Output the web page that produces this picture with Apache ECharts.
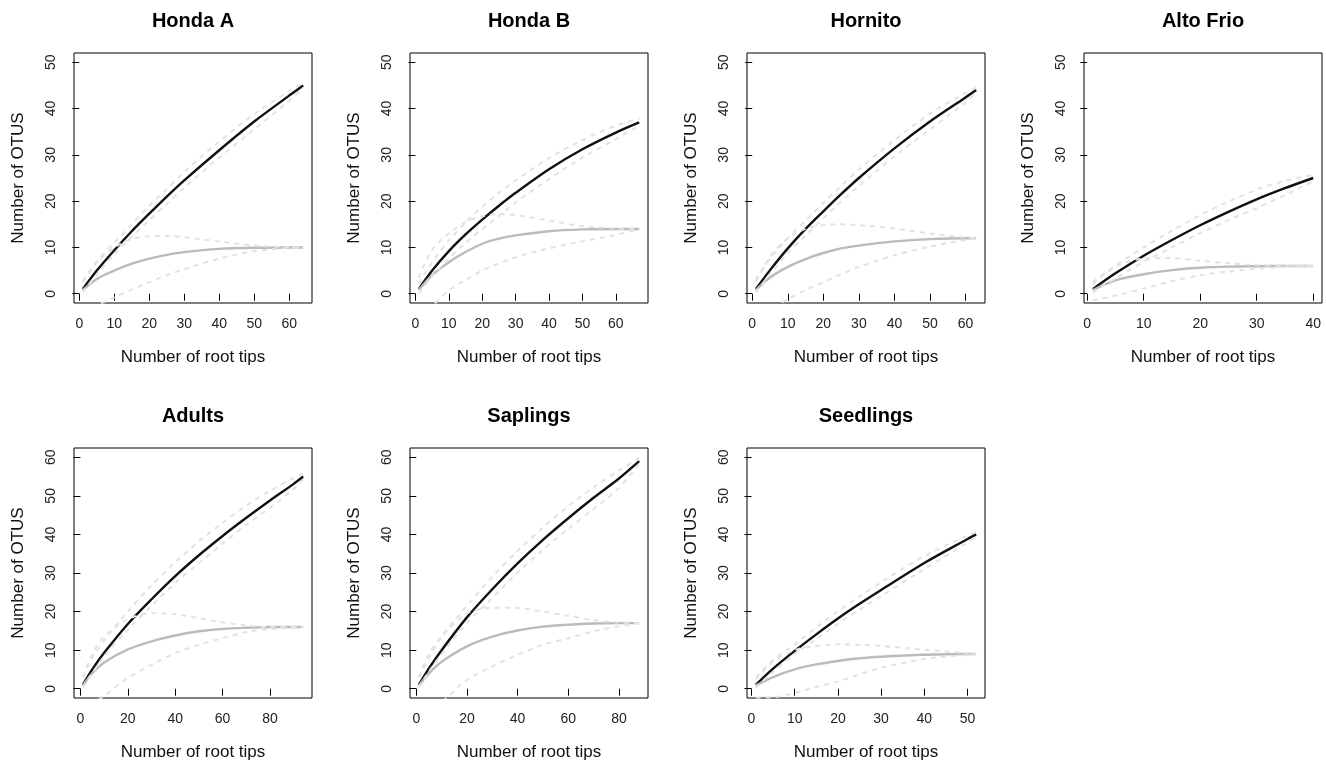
<!DOCTYPE html>
<html>
<head>
<meta charset="utf-8">
<title>OTU accumulation by site and stage</title>
<script src="https://cdn.jsdelivr.net/npm/echarts@6.0.0/dist/echarts.min.js"></script>
<style>
  html, body { margin: 0; padding: 0; background: #fff; }
  #chart { width: 1326px; height: 764px; }
</style>
</head>
<body>
<div id="chart"></div>
<script>
// panel titles and axis ticks
const titles = ['Honda A', 'Honda B', 'Hornito', 'Alto Frio', 'Adults', 'Saplings', 'Seedlings'];
const yTicks50 = [0, 10, 20, 30, 40, 50];
const yTicks60 = [0, 10, 20, 30, 40, 50, 60];
const xTicks60 = [0, 10, 20, 30, 40, 50, 60];
const xTicks40 = [0, 10, 20, 30, 40];
const xTicks80 = [0, 20, 40, 60, 80];
const xTicks50 = [0, 10, 20, 30, 40, 50];

// Honda A
const hondaA_x       = [1, 5, 10, 15, 20, 25, 30, 40, 50, 60, 64];
const hondaA_black   = [1, 5.0, 9.4, 13.5, 17.3, 21.0, 24.5, 31.0, 37.2, 42.8, 45];
const hondaA_blackHi = [2.8, 7, 11, 15, 19, 22.6, 26.3, 32.9, 38.8, 43.8, 45.5];
const hondaA_blackLo = [0.4, 4.2, 8.5, 12.3, 15.9, 19.4, 22.9, 29.4, 35.5, 41.7, 44.5];
const hondaA_grey    = [0.8, 3.2, 5.0, 6.5, 7.6, 8.4, 9.0, 9.7, 9.95, 10, 10];
const hondaA_greyHi  = [2.5, 6.8, 10, 11.8, 12.4, 12.5, 12.2, 11.3, 10.4, 10.05, 10];
const hondaA_greyLo  = [-3.8, -2.5, -0.8, 0.9, 2.5, 4, 5.3, 7.6, 9.2, 9.9, 10];

// Honda B
const hondaB_x       = [1, 5, 10, 15, 20, 25, 30, 40, 50, 60, 67];
const hondaB_black   = [1, 5, 9.2, 12.8, 16, 19, 21.8, 26.9, 31.2, 34.8, 37];
const hondaB_blackHi = [2.2, 6.8, 11.5, 15.4, 18.8, 21.8, 24.5, 29.3, 33.2, 36.3, 37.8];
const hondaB_blackLo = [0.2, 3.8, 7.6, 11, 14, 16.8, 19.7, 24.8, 29.4, 33.4, 36.3];
const hondaB_grey    = [0.8, 4, 6.8, 9, 10.8, 11.9, 12.6, 13.5, 13.9, 14, 14];
const hondaB_greyHi  = [3.5, 9.5, 13, 15.5, 16.7, 17.2, 17, 15.8, 14.6, 14.1, 14];
const hondaB_greyLo  = [-4.5, -2.6, 0.7, 3, 5, 6.6, 7.9, 9.8, 11.3, 12.7, 14];

// Hornito
const hornito_x       = [1, 5, 10, 15, 20, 25, 30, 40, 50, 60, 63];
const hornito_black   = [1, 5.1, 9.8, 14.0, 17.8, 21.5, 25.0, 31.4, 37.2, 42.4, 44];
const hornito_blackHi = [3, 7.6, 12, 15.8, 19.6, 23.3, 26.8, 33.2, 38.9, 43.4, 44.5];
const hornito_blackLo = [0.3, 4.2, 8.8, 12.6, 16.3, 19.9, 23.3, 29.7, 35.5, 41.3, 43.5];
const hornito_grey    = [0.8, 3.5, 5.8, 7.5, 8.8, 9.8, 10.4, 11.3, 11.8, 12, 12];
const hornito_greyHi  = [2.5, 8, 12, 14, 14.8, 15, 14.8, 14.1, 13, 12.2, 12];
const hornito_greyLo  = [-5, -3.3, -1.2, 0.8, 2.5, 4.2, 5.8, 8.3, 10.2, 11.6, 12];

// Alto Frio
const altoFrio_x       = [1, 5, 10, 15, 20, 25, 30, 35, 40];
const altoFrio_black   = [1, 4.4, 8.2, 11.6, 14.8, 17.7, 20.4, 22.8, 25];
const altoFrio_blackHi = [2.5, 6.1, 10, 13.6, 17, 19.9, 22.5, 24.4, 25.7];
const altoFrio_blackLo = [0.3, 3.3, 6.9, 10, 13.1, 15.9, 18.5, 21.3, 24.3];
const altoFrio_grey    = [0.8, 2.9, 4.2, 5.1, 5.6, 5.85, 5.95, 6, 6];
const altoFrio_greyHi  = [2, 5.8, 7.6, 7.7, 7.1, 6.6, 6.2, 6.05, 6];
const altoFrio_greyLo  = [-1.4, -0.4, 1.1, 2.7, 4, 4.8, 5.4, 5.8, 6];

// Adults
const adults_x       = [1, 5, 10, 20, 30, 40, 50, 60, 70, 80, 90, 94];
const adults_black   = [1, 5, 9.3, 16.8, 23.2, 29.2, 34.6, 39.6, 44.3, 48.8, 53.1, 55];
const adults_blackHi = [3, 8, 12.5, 20, 26.8, 32.8, 38.2, 43, 47.5, 51.3, 54.6, 55.8];
const adults_blackLo = [0.3, 4, 8.4, 15.3, 21.5, 27.4, 32.6, 37.6, 42.5, 46.9, 51.8, 54.2];
const adults_grey    = [0.8, 4, 6.8, 10.2, 12.3, 13.8, 14.9, 15.5, 15.8, 16, 16, 16];
const adults_greyHi  = [3, 9, 13.5, 18, 19.6, 19.3, 18.3, 17.2, 16.4, 16, 16, 16];
const adults_greyLo  = [-6, -4, -1.8, 2.8, 6.2, 9.2, 11.4, 13.1, 14.7, 15.5, 15.9, 16];

// Saplings
const saplings_x       = [1, 5, 10, 20, 30, 40, 50, 60, 70, 80, 88];
const saplings_black   = [1, 5.3, 10, 18.5, 25.8, 32.5, 38.6, 44.2, 49.5, 54.5, 59];
const saplings_blackHi = [3, 8, 13.5, 21.5, 29, 35.7, 41.8, 47.3, 52.2, 56.6, 59.8];
const saplings_blackLo = [0.3, 4.5, 9, 17, 23.5, 30.1, 36, 41.4, 46.6, 52, 58.3];
const saplings_grey    = [0.8, 4, 7, 11, 13.5, 15.1, 16.1, 16.6, 16.9, 17, 17];
const saplings_greyHi  = [3, 9, 13.5, 19.5, 21, 20.9, 20, 18.9, 17.8, 17.2, 17];
const saplings_greyLo  = [-8, -6, -3.5, 2.3, 5.8, 8.8, 11.4, 13.1, 14.9, 16.2, 17];

// Seedlings
const seedlings_x       = [1, 5, 10, 15, 20, 25, 30, 40, 50, 52];
const seedlings_black   = [1, 5.2, 9.8, 14.1, 18.2, 22.0, 25.6, 32.6, 38.8, 40];
const seedlings_blackHi = [3, 7.5, 11.5, 15.9, 20.1, 23.9, 27.6, 34.4, 39.7, 40.6];
const seedlings_blackLo = [0.3, 4.4, 9, 12.9, 16.8, 20.5, 24, 31, 37.9, 39.5];
const seedlings_grey    = [0.8, 3, 5, 6.3, 7.2, 7.9, 8.3, 8.8, 9, 9];
const seedlings_greyHi  = [2.5, 7, 10, 11.1, 11.5, 11.4, 11.1, 10.1, 9.2, 9];
const seedlings_greyLo  = [-2.3, -2.2, -1.1, 0.5, 1.9, 3.7, 5.4, 7.7, 8.8, 9];

const panels = [
  { x: hondaA_x, xTicks: xTicks60, yTicks: yTicks50,
    lines: [hondaA_black, hondaA_blackHi, hondaA_blackLo, hondaA_grey, hondaA_greyHi, hondaA_greyLo] },
  { x: hondaB_x, xTicks: xTicks60, yTicks: yTicks50,
    lines: [hondaB_black, hondaB_blackHi, hondaB_blackLo, hondaB_grey, hondaB_greyHi, hondaB_greyLo] },
  { x: hornito_x, xTicks: xTicks60, yTicks: yTicks50,
    lines: [hornito_black, hornito_blackHi, hornito_blackLo, hornito_grey, hornito_greyHi, hornito_greyLo] },
  { x: altoFrio_x, xTicks: xTicks40, yTicks: yTicks50,
    lines: [altoFrio_black, altoFrio_blackHi, altoFrio_blackLo, altoFrio_grey, altoFrio_greyHi, altoFrio_greyLo] },
  { x: adults_x, xTicks: xTicks80, yTicks: yTicks60,
    lines: [adults_black, adults_blackHi, adults_blackLo, adults_grey, adults_greyHi, adults_greyLo] },
  { x: saplings_x, xTicks: xTicks80, yTicks: yTicks60,
    lines: [saplings_black, saplings_blackHi, saplings_blackLo, saplings_grey, saplings_greyHi, saplings_greyLo] },
  { x: seedlings_x, xTicks: xTicks50, yTicks: yTicks60,
    lines: [seedlings_black, seedlings_blackHi, seedlings_blackLo, seedlings_grey, seedlings_greyHi, seedlings_greyLo] },
];

// layout (pixels)
const boxLeft = [74, 410, 747, 1084, 74, 410, 747];
const boxTop = [53, 53, 53, 53, 448, 448, 448];
const boxW = 238;
const boxH = 250;

const FONT = 'Liberation Sans, Arial, Helvetica, sans-serif';

const solidBlack = { color: '#111', width: 2.4 };
const solidGrey = { color: '#bbbbbb', width: 2.4 };
const dashed = { color: '#e2e2e2', width: 2, type: [5, 5] };
const lineStyles = [solidBlack, dashed, dashed, solidGrey, dashed, dashed];
// draw order: means first, bands on top (as in the original)
const zOrder = [2, 4, 4, 3, 5, 5];

const pairs = (xs, ys) => xs.map((x, i) => [x, ys[i]]);

const chart = echarts.init(document.getElementById('chart'), null, { renderer: 'canvas' });

const option = {
  backgroundColor: '#fff',
  animation: false,
  title: [],
  grid: [],
  xAxis: [],
  yAxis: [],
  series: [],
};

panels.forEach((p, i) => {
  const n0 = p.x[0];
  const n1 = p.x[p.x.length - 1];
  const padX = 0.04 * (n1 - n0);
  const yTop = p.yTicks[p.yTicks.length - 1];
  const padY = 0.04 * yTop;

  option.title.push({
    text: titles[i],
    left: boxLeft[i] + boxW / 2,
    top: boxTop[i] - 42,
    textAlign: 'center',
    padding: 0,
    textStyle: { fontFamily: FONT, fontSize: 20, fontWeight: 'bold', color: '#000' },
  });

  option.grid.push({
    left: boxLeft[i], top: boxTop[i], width: boxW, height: boxH,
    show: true, borderColor: '#000', borderWidth: 1, backgroundColor: 'transparent',
    containLabel: false, outerBoundsMode: 'none',
  });

  option.xAxis.push({
    gridIndex: i, type: 'value', min: n0 - padX, max: n1 + padX,
    axisLine: { show: false },
    axisTick: { show: true, customValues: p.xTicks, length: 7, lineStyle: { color: '#000', width: 1 } },
    axisLabel: { customValues: p.xTicks, margin: 14, fontFamily: FONT, fontSize: 14, color: '#222' },
    splitLine: { show: false },
    name: 'Number of root tips', nameLocation: 'middle', nameGap: 46,
    nameTextStyle: { fontFamily: FONT, fontSize: 17, color: '#111' },
  });

  option.yAxis.push({
    gridIndex: i, type: 'value', min: -padY, max: yTop + padY,
    axisLine: { show: false },
    axisTick: { show: true, customValues: p.yTicks, length: 7, lineStyle: { color: '#000', width: 1 } },
    axisLabel: { customValues: p.yTicks, rotate: 90, margin: 16, fontFamily: FONT, fontSize: 14, color: '#222' },
    splitLine: { show: false },
    name: 'Number of OTUS', nameLocation: 'middle', nameGap: 47,
    nameTextStyle: { fontFamily: FONT, fontSize: 17, color: '#111' },
  });

  p.lines.forEach((ys, k) => {
    option.series.push({
      type: 'line',
      xAxisIndex: i, yAxisIndex: i,
      data: pairs(p.x, ys),
      showSymbol: false, symbol: 'none',
      smooth: 0.3,
      clip: true,
      z: zOrder[k],
      lineStyle: lineStyles[k],
      silent: true,
    });
  });
});

chart.setOption(option);
</script>
</body>
</html>
